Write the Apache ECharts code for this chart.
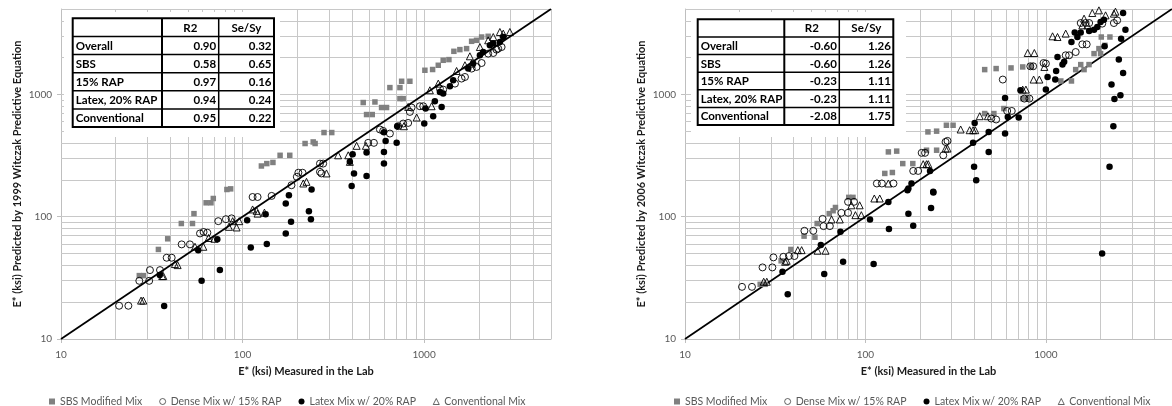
<!DOCTYPE html>
<html><head><meta charset="utf-8">
<script src="https://cdn.jsdelivr.net/npm/echarts@6/dist/echarts.min.js"></script>
<style>html,body{margin:0;padding:0;background:#fff}#c{width:1172px;height:406px}</style>
</head><body><div id="c"></div>
<script>
// ---------- DATA ----------
const seriesNames = ['SBS Modified Mix', 'Dense Mix w/ 15% RAP', 'Latex Mix w/ 20% RAP', 'Conventional Mix'];
const yTitles = ['E* (ksi) Predicted by 1999 Witczak Predictive Equation', 'E* (ksi) Predicted by 2006 Witczak Predictive Equation'];
const xTitle = 'E* (ksi) Measured in the Lab';
const axisMin = 10, axisMax = 5000;
const majorTicks = [10, 100, 1000];
const minorGrid = [20, 30, 40, 50, 60, 70, 80, 90, 200, 300, 400, 500, 600, 700, 800, 900, 2000, 3000, 4000, 5000];
const equalityLine = [10, 5000];
const tableHeader = ['', 'R2', 'Se/Sy'];
const tableRows = ['Overall', 'SBS', '15% RAP', 'Latex, 20% RAP', 'Conventional'];
const r2_1999 = ['0.90', '0.58', '0.97', '0.94', '0.95'];
const sesy_1999 = ['0.32', '0.65', '0.16', '0.24', '0.22'];
const r2_2006 = ['-0.60', '-0.60', '-0.23', '-0.23', '-2.08'];
const sesy_2006 = ['1.26', '1.26', '1.11', '1.11', '1.75'];

// [measured, predicted] pairs, 1999 equation
const sbs1999 = [[27,33],[28.5,33],[34.4,54],[38.7,66],[46,88],[53,88],[54,106],[63,130],[67,130],[69,141],[82,167],[86,169],
 [127,260],[136,272],[147,278],[161,318],[182,318],[221,397],[245,409],[251,397],[281,488],[310,488],
 [462,859],[536,868],[482,685],[518,685],[583,782],[621,782],[648,1138],[736,1138],[752,1282],[835,1282],[736,925],[767,925],
 [1010,1577],[1114,1600],[1197,1733],[1274,1903],[1370,1928],[1459,2254],[1574,2327],[1714,2371],[1827,2721],[1945,2773],[2074,2950],[2254,2990]];
const dense1999 = [[20.9,18.7],[23.5,18.7],[27,29.9],[30.6,29.9],[30.9,36.6],[35.1,36.6],[38.2,46.2],[40.7,46.2],[46.2,59.4],[51.3,59.4],
 [58.3,73],[61,75],[64,74],[73.5,92],[81,95.5],[87,97],[113.6,145],[121,145],[144.6,148],
 [186,181],[199,212],[203,229],[214,229],[267,272],[278,272],[267,233],[272,226],
 [492,402],[529,402],[571,517],[595,503],[648,479],[720,550],[767,578],[817,585],[835,720],[853,782],[948,801],[989,801],
 [1222,1117],[1274,1096],[1479,1227],[1608,1349],[1679,1390],[1827,1628],[1945,1679],[2074,1808],[2254,2158],[2404,2183],[2506,2327],[2559,2371],[2672,2443]];
const latex1999 = [[37,18.6],[35,33.3],[57,53.3],[59.5,29.9],[72.6,65.3],[75,36.6],[106,93.8],[111,56],[134,105],[136,59.7],
 [173,128.5],[173,73],[180,150],[185,91],[232,111],[238,95.5],[240,167],
 [399,178],[411,226],[482,215],[404,325],[390,281],[482,335],[601,339],[601,272],[614,417],[706,402],[601,490],[711,550],
 [1002,578],[1019,767],[1122,664],[1146,880],[1249,791],[1222,1048],[1274,1017],[1387,1167],[1446,1306],[1750,1628],[1864,1788],
 [2029,2091],[2115,2224],[2303,2523],[2404,2606],[2614,2685],[2729,2950]];
const conv1999 = [[27.6,20.6],[28.4,20.6],[36.1,32.7],[36.6,32.7],[42.4,41],[43.9,40.2],[54.7,56.8],[60.8,56.8],[65,67],[70,66],
 [84.1,82.7],[92.7,81.7],[88.2,92],[95.9,92],[113.6,114.7],[119.6,111.7],[121,106],[132,108],
 [216,187],[225,193],[290,226],[336,318],[382,318],[390,281],[425,380],[478,380],
 [774,550],[817,791],[910,648],[1100,801],[1076,1082],[1197,1227],[1510,1556],[1679,1733],[1787,2052],[1827,1788],
 [2029,2443],[2254,2773],[2404,2950],[2614,3243],[2729,3145],[2967,3243]];

// [measured, predicted] pairs, 2006 equation
const sbs2006 = [[26.1,28],[27.8,28],[34.1,43.6],[38.6,54],[45.7,69.4],[52.5,68],[54,88],[63,106],[66.2,112],[68.2,119],[80.8,144],[85.3,144],
 [128,226],[141,230],[134,339],[149,344],[161,272],[183,272],[218,350],[248,350],[222,494],[248,501],[281,560],[306,560],
 [458,698],[515,698],[585,767],[458,1597],[530,1628],[641,1648],[744,1679],[744,925],[793,925],[827,1700],
 [1210,1289],[1386,1289],[1463,1597],[1628,1597],[1560,1755],[1734,1755],[1849,2158],[1968,2371],[2010,2158],[2125,2523],[2028,2950],[2264,2950]];
const dense2006 = [[20.7,26.7],[23.5,26.7],[26.9,38.5],[30.5,38.5],[30.9,46.5],[35.1,47],[37.7,47.7],[40.4,47.7],[45.9,76.7],[51.4,76.7],
 [57.9,96],[58.6,83.8],[63.5,83.8],[73.6,107.6],[80.1,107.6],[80.1,132.4],[86.4,132.4],[115.7,187],[123.3,187],[143,187],
 [184,237],[196,237],[205,333],[214,333],[270,318],[278,409],[285,417],
 [498,636],[530,624],[610,733],[647,733],[577,1324],[760,925],[810,925],[820,1700],[850,1700],[971,1808],[1000,1788],
 [1288,2091],[1345,2091],[1463,2224],[1592,2570],[1683,2570],[1560,3838],[1660,3838],[1737,3838],[2052,3796],[2382,3838],[2483,4037]];
const latex2006 = [[37.1,23.2],[34.7,35.5],[56.6,58.6],[59.1,34],[72.7,75.3],[75.2,42.8],[106,95],[111,41],[134,132],[135,79.2],
 [171,165],[173,106],[184,84.3],[231,118],[238,158],[173,170],[180,187],[237.5,160],[228,237],
 [400,256],[411,199],[395,402],[403,585],[482,339],[482,494],[594,480],[594,936],[615,655],[707,648],[723,1082],
 [1000,1096],[1022,1390],[1127,1324],[1140,1556],[1160,2025],[1236,1755],[1263,1854],[1386,2685],[1445,3205],[1495,2950],[1560,3205],
 [1737,3303],[1849,3388],[1927,3562],[2010,3914],[2098,4093],[2679,4635],[2114,2477],[2612,2862],[2760,3388],[2537,1928],[2679,1500],
 [2311,1205],[2399,919],[2589,985],[2366,550],[2253,256],[2050,50]];
const conv2006 = [[27.3,29.4],[28.4,29.4],[35.9,42.8],[36.6,43.6],[42.2,53.3],[44.3,53.3],[54.3,52.7],[60.1,52.7],[64.9,95],[72.1,95],
 [88,103],[94.9,103],[83.6,124],[92.9,124],[112,141],[120,141],[134,187],
 [209,269],[218,269],[223,269],[278,361],[285,361],[337,517],[378,510],[395,510],[406,510],[430,664],[477,664],
 [744,1096],[775,1096],[793,2183],[863,2183],[855,1324],[920,1324],[981,1679],
 [1089,2990],[1160,2950],[1288,3145],[1592,3675],[1700,3675],[1628,4170],[1808,4635],[1968,4874],[2142,4436],[2382,4581],[2430,4755]];

// ---------- LAYOUT / STYLE ----------
const FONT = 'Lato, "Liberation Sans", sans-serif';
const panels = [
  { grid: { left: 61, top: 9, width: 490, height: 330 }, yTitle: yTitles[0],
    data: [sbs1999, dense1999, latex1999, conv1999], r2: r2_1999, sesy: sesy_1999,
    table: { cols: [72.7, 162, 218.7, 274], y0: 18.3, y1: 127, box: [64, 12, 280, 137] }, legendLeft: 44 },
  { grid: { left: 685, top: 9, width: 490, height: 330 }, yTitle: yTitles[1],
    data: [sbs2006, dense2006, latex2006, conv2006], r2: r2_2006, sesy: sesy_2006,
    table: { cols: [697.7, 784.3, 839.3, 893.3], y0: 19.3, y1: 125, box: [691, 12, 906, 137] }, legendLeft: 669 }
];
const markerStyles = [
  { symbol: 'rect', symbolSize: 5.5, itemStyle: { color: '#808080', opacity: 1 } },
  { symbol: 'circle', symbolSize: 7, itemStyle: { color: 'rgba(255,255,255,0)', borderColor: '#000', borderWidth: 0.9, opacity: 1 } },
  { symbol: 'circle', symbolSize: 6.5, itemStyle: { color: '#000', opacity: 1 } },
  { symbol: 'triangle', symbolSize: 7, itemStyle: { color: 'rgba(255,255,255,0)', borderColor: '#000', borderWidth: 0.9, opacity: 1 } }
];
const gridColor = '#c8c8c8';

const grids = [], xAxes = [], yAxes = [], series = [], legends = [], graphics = [];
const gridLineValues = minorGrid.concat(majorTicks.filter(v => v !== axisMin));

panels.forEach((p, i) => {
  grids.push(p.grid);
  const axisCommon = {
    type: 'log', logBase: 10, min: axisMin, max: axisMax, gridIndex: i,
    axisLine: { show: true, lineStyle: { color: '#bfbfbf', width: 1 } },
    axisTick: { show: true, length: 4, lineStyle: { color: '#bfbfbf' } },
    splitLine: { show: false },
    axisLabel: { formatter: v => String(v), color: '#595959', fontSize: 10, fontFamily: FONT, showMaxLabel: false },
    nameLocation: 'middle',
    nameTextStyle: { fontWeight: 'bold', fontSize: 11, color: '#1a1a1a', fontFamily: FONT }
  };
  xAxes.push(Object.assign({}, axisCommon, { name: xTitle, nameGap: 27, axisLabel: Object.assign({}, axisCommon.axisLabel, { margin: 11 }) }));
  yAxes.push(Object.assign({}, axisCommon, { name: p.yTitle, nameGap: 38, axisLabel: Object.assign({}, axisCommon.axisLabel, { margin: 9 }) }));

  // gridlines through the axes' own scales
  series.push({
    type: 'line', name: 'grid' + i, xAxisIndex: i, yAxisIndex: i, data: [], z: 1, silent: true,
    markLine: {
      z: 1, silent: true, symbol: ['none', 'none'], label: { show: false }, animation: false,
      lineStyle: { color: gridColor, width: 1, type: 'solid' },
      emphasis: { disabled: true },
      data: gridLineValues.map(v => ({ xAxis: v })).concat(gridLineValues.map(v => ({ yAxis: v })))
    }
  });
  // line of equality
  series.push({
    type: 'line', name: 'eq' + i, xAxisIndex: i, yAxisIndex: i, z: 8, silent: true,
    data: equalityLine.map(v => [v, v]), showSymbol: false, symbol: 'none',
    lineStyle: { color: '#000', width: 1.75 }
  });
  p.data.forEach((d, k) => {
    series.push(Object.assign({
      type: 'scatter', name: seriesNames[k], xAxisIndex: i, yAxisIndex: i, z: 10 + k, data: d
    }, markerStyles[k]));
  });
  legends.push({
    left: p.legendLeft, top: 391, orient: 'horizontal', itemWidth: 6, itemHeight: 6, itemGap: 17,
    data: seriesNames, selectedMode: false,
    itemStyle: { borderWidth: 0.6 },
    textStyle: { fontSize: 10.5, color: '#595959', fontFamily: FONT }
  });

  // statistics table
  const t = p.table, b = t.box;
  graphics.push({ type: 'rect', z: 100, shape: { x: b[0], y: b[1], width: b[2] - b[0], height: b[3] - b[1] }, style: { fill: '#fff' } });
  const nRows = tableRows.length + 1;
  const rh = (t.y1 - t.y0) / nRows;
  const rows = [tableHeader].concat(tableRows.map((r, j) => [r, p.r2[j], p.sesy[j]]));
  rows.forEach((row, r) => {
    const yc = t.y0 + rh * (r + 0.5);
    row.forEach((txt, c) => {
      if (!txt) return;
      let x, align;
      if (r === 0) { x = (t.cols[c] + t.cols[c + 1]) / 2; align = 'center'; }
      else if (c === 0) { x = t.cols[0] + 3; align = 'left'; }
      else { x = t.cols[c + 1] - 2.5; align = 'right'; }
      graphics.push({ type: 'text', z: 102, style: { text: txt, x: x, y: yc + 0.5, textAlign: align, textVerticalAlign: 'middle',
        font: 'bold 11.5px ' + FONT, fill: '#000' } });
    });
  });
  for (let r = 1; r < nRows; r++) {
    const y = t.y0 + rh * r;
    graphics.push({ type: 'line', z: 101, shape: { x1: t.cols[0], y1: y, x2: t.cols[3], y2: y }, style: { stroke: '#000', lineWidth: 1.5 } });
  }
  [1, 2].forEach(c => {
    graphics.push({ type: 'line', z: 101, shape: { x1: t.cols[c], y1: t.y0, x2: t.cols[c], y2: t.y1 }, style: { stroke: '#000', lineWidth: c === 1 ? 2 : 1.5 } });
  });
  graphics.push({ type: 'rect', z: 101, shape: { x: t.cols[0], y: t.y0, width: t.cols[3] - t.cols[0], height: t.y1 - t.y0 }, style: { fill: 'none', stroke: '#000', lineWidth: 2 } });
});

const chart = echarts.init(document.getElementById('c'));
chart.setOption({
  animation: false,
  backgroundColor: '#fff',
  grid: grids, xAxis: xAxes, yAxis: yAxes, series: series, legend: legends,
  graphic: { elements: graphics }
});
</script></body></html>
